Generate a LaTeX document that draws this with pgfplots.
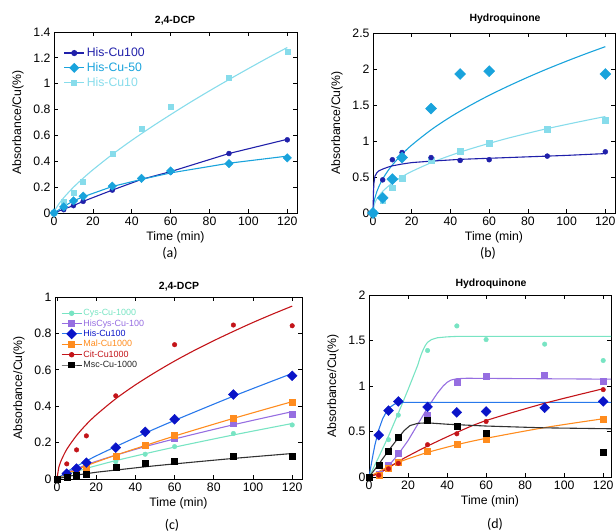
\documentclass[border=0pt]{standalone}
\usepackage{pgfplots}
\pgfplotsset{compat=1.18}
\usepackage{fontspec}
\setmainfont{Liberation Sans}
\newfontfamily\carlito{Carlito}
\definecolor{hdark}{RGB}{32,32,170}
\definecolor{hmid}{RGB}{25,163,220}
\definecolor{hlight}{RGB}{135,220,235}
\definecolor{cys}{RGB}{120,228,195}
\definecolor{hiscys}{RGB}{150,110,225}
\definecolor{hismark}{RGB}{10,20,200}
\definecolor{hisline}{RGB}{40,120,235}
\definecolor{mal}{RGB}{255,140,30}
\definecolor{cit}{RGB}{195,20,25}
\definecolor{msc}{RGB}{0,0,0}
\definecolor{mscline}{RGB}{50,50,50}
\newcommand\tf{\fontsize{12.3}{14}\selectfont}
\newcommand\ttl{\bfseries\fontsize{10.5}{12}\selectfont}
\pgfplotsset{
 panel/.style={scale only axis, clip=false,
  axis line style={line width=0.8pt},
  tick style={black, line width=0.7pt},
  major tick length=4bp,
  tick align=inside,
  xtick={0,20,...,120}, xmin=0, xmax=125, ymin=0,
  tick label style={font=\tf},
  label style={font=\tf},
  ylabel style={yshift=3bp},
  xlabel={Time (min)}, ylabel={Absorbance/Cu(\%)},
  /pgf/number format/assume math mode=true,
  legend cell align=left,
  legend image code/.code={\draw[mark repeat=2,mark phase=2] plot coordinates {(0bp,0bp) (10bp,0bp) (20bp,0bp)};},
 },
 fit/.style={line width=1.1pt, no markers, forget plot},
 pts/.style={only marks, forget plot},
}
\begin{document}
\begin{tikzpicture}[x=1bp,y=1bp]
\path[use as bounding box] (0,0) rectangle (616,532);
% ---------------- (a)
\begin{axis}[panel, at={(54bp,319bp)}, anchor=south west, width=243bp, height=181bp,
 ymax=1.4, ytick={0,0.2,...,1.4},
 legend style={at={(0.035,0.93)}, anchor=north west, draw=none, fill=none, font=\tf, row sep=0.5bp, inner sep=1bp}]
\addlegendimage{hdark, line width=1.1pt, mark=*, mark size=2.5bp}
\addlegendentry{\textcolor{hdark}{His-Cu100}}
\addlegendimage{hmid, line width=1.1pt, mark=square*, mark size=3bp, mark options={rotate=45}}
\addlegendentry{\textcolor{hmid}{His-Cu-50}}
\addlegendimage{hlight, line width=1.1pt, mark=square*, mark size=2.5bp}
\addlegendentry{\textcolor{hlight}{His-Cu10}}
\addplot[fit, hlight, smooth] coordinates {(0,0)(1,0.035)(2,0.059)(5,0.118)(10,0.199)(15,0.269)(20,0.334)(30,0.453)(40,0.562)(50,0.664)(60,0.761)(70,0.855)(80,0.945)(90,1.032)(100,1.117)(110,1.200)(120,1.280)};
\addplot[pts, hlight, mark=square*, mark size=2.5bp] coordinates {(0,0)(5,0.09)(10,0.155)(15,0.245)(30,0.46)(45,0.655)(60,0.82)(90,1.05)(120,1.25)};
\addplot[fit, hdark] coordinates {(0,0)(5,0.03)(10,0.057)(15,0.09)(30,0.177)(45,0.26)(60,0.32)(90,0.46)(120,0.57)};
\addplot[pts, hdark, mark=*, mark size=2.5bp] coordinates {(0,0)(5,0.026)(10,0.057)(15,0.09)(30,0.177)(45,0.265)(60,0.317)(90,0.46)(120,0.566)};
\addplot[fit, hmid] coordinates {(0,0)(5,0.05)(10,0.094)(15,0.125)(30,0.205)(45,0.26)(60,0.31)(90,0.385)(120,0.44)};
\addplot[pts, hmid, mark=square*, mark size=3bp, mark options={rotate=45}] coordinates {(0,0)(5,0.047)(10,0.094)(15,0.13)(30,0.208)(45,0.268)(60,0.325)(90,0.382)(120,0.426)};
\end{axis}
% ---------------- (b)
\begin{axis}[panel, at={(373bp,319bp)}, anchor=south west, width=242bp, height=180bp,
 ymax=2.5, ytick={0,0.5,...,2.5}]
\addplot[fit, hmid, smooth] coordinates {(0,0)(0.5,0.149)(1,0.211)(2,0.298)(3,0.365)(5,0.472)(7.5,0.578)(10,0.667)(15,0.817)(20,0.943)(30,1.155)(40,1.334)(50,1.491)(60,1.634)(70,1.764)(80,1.886)(90,2.001)(100,2.109)(110,2.212)(120,2.310)};
\addplot[fit, hlight, smooth] coordinates {(0,0)(0.5,0.102)(1,0.141)(2,0.196)(5,0.301)(10,0.417)(15,0.504)(20,0.577)(30,0.698)(40,0.799)(50,0.888)(60,0.967)(70,1.041)(80,1.108)(90,1.172)(100,1.230)(110,1.286)(120,1.340)};
\addplot[fit, hdark] coordinates {(0,0)(0.25,0.3)(0.5,0.42)(1,0.51)(2,0.56)(3,0.585)(5,0.61)(7.5,0.635)(10,0.655)(15,0.68)(20,0.70)(30,0.72)(45,0.745)(60,0.76)(80,0.78)(100,0.80)(120,0.825)};
\addplot[pts, hlight, mark=square*, mark size=2.8bp] coordinates {(0,0)(5,0.17)(10,0.35)(15,0.48)(30,0.73)(45,0.86)(60,0.97)(90,1.16)(120,1.29)};
\addplot[pts, hdark, mark=*, mark size=2.5bp] coordinates {(0,0)(5,0.46)(10,0.74)(15,0.84)(30,0.77)(45,0.73)(60,0.74)(90,0.79)(120,0.85)};
\addplot[pts, hmid, mark=square*, mark size=3.9bp, mark options={rotate=45}] coordinates {(0,0)(5,0.21)(10,0.47)(15,0.77)(30,1.45)(45,1.93)(60,1.97)(120,1.93)};
\end{axis}
% ---------------- (c)
\begin{axis}[panel, at={(55bp,53bp)}, anchor=south west, width=247bp, height=182bp,
 xmin=-1, ymax=1, ytick={0,0.2,...,1},
 legend style={at={(0.02,0.945)}, anchor=north west, draw=none, fill=none, font=\fontsize{9}{9.8}\selectfont, row sep=0bp, inner sep=1bp, nodes={inner sep=1.2bp}}]
\addlegendimage{cys, line width=1pt, mark=*, mark size=2.2bp}
\addlegendentry{\textcolor{cys}{Cys-Cu-1000}}
\addlegendimage{hiscys, line width=1pt, mark=square*, mark size=2.8bp}
\addlegendentry{\textcolor{hiscys}{HisCys-Cu-100}}
\addlegendimage{hisline, line width=1pt, mark=square*, mark size=3.3bp, mark options={rotate=45, fill=hismark, draw=hismark}}
\addlegendentry{\textcolor{hismark}{His-Cu100}}
\addlegendimage{mal, line width=1pt, mark=square*, mark size=2.8bp}
\addlegendentry{\textcolor{mal}{Mal-Cu1000}}
\addlegendimage{cit, line width=1pt, mark=*, mark size=2.2bp}
\addlegendentry{\textcolor{cit}{Cit-Cu1000}}
\addlegendimage{mscline, line width=1pt, mark=square*, mark size=2.8bp, mark options={fill=msc, draw=msc}}
\addlegendentry{\textcolor{black!85}{Msc-Cu-1000}}
\addplot[fit, cit, smooth] coordinates {(0,0)(1,0.067)(2,0.098)(5,0.163)(10,0.239)(15,0.300)(20,0.352)(30,0.441)(40,0.517)(50,0.585)(60,0.648)(70,0.706)(80,0.760)(90,0.811)(100,0.860)(110,0.906)(120,0.950)};
\addplot[pts, cit, mark=*, mark size=2.3bp] coordinates {(5,0.083)(10,0.16)(15,0.237)(30,0.457)(60,0.738)(90,0.846)(120,0.842)};
\addplot[fit, cys, smooth] coordinates {(0,0)(5,0.024)(10,0.042)(15,0.058)(20,0.073)(30,0.101)(45,0.139)(60,0.175)(90,0.242)(120,0.305)};
\addplot[pts, cys, mark=*, mark size=2.3bp] coordinates {(5,0.018)(10,0.03)(15,0.05)(30,0.095)(45,0.136)(60,0.178)(90,0.25)(120,0.297)};
\addplot[fit, hiscys, smooth] coordinates {(0,0)(5,0.034)(10,0.057)(15,0.078)(20,0.097)(30,0.131)(45,0.178)(60,0.220)(90,0.298)(120,0.370)};
\addplot[pts, hiscys, mark=square*, mark size=3bp] coordinates {(5,0.025)(10,0.04)(15,0.06)(30,0.128)(45,0.183)(60,0.224)(90,0.306)(120,0.356)};
\addplot[fit, mal, smooth] coordinates {(0,0)(5,0.029)(10,0.051)(15,0.073)(20,0.093)(30,0.131)(45,0.184)(60,0.236)(90,0.333)(120,0.425)};
\addplot[pts, mal, mark=square*, mark size=3bp] coordinates {(5,0.025)(10,0.04)(15,0.06)(30,0.123)(45,0.185)(60,0.242)(90,0.336)(120,0.42)};
\addplot[fit, hisline, smooth] coordinates {(0,0)(5,0.039)(10,0.070)(15,0.099)(20,0.127)(30,0.178)(45,0.252)(60,0.322)(90,0.455)(120,0.580)};
\addplot[pts, hismark, mark=square*, mark size=3.5bp, mark options={rotate=45}] coordinates {(5,0.03)(10,0.057)(15,0.09)(30,0.172)(45,0.259)(60,0.328)(90,0.464)(120,0.567)};
\addplot[fit, mscline, smooth] coordinates {(0,0)(5,0.013)(10,0.022)(15,0.029)(20,0.037)(30,0.049)(45,0.067)(60,0.083)(90,0.113)(120,0.140)};
\addplot[pts, msc, mark=square*, mark size=3bp] coordinates {(0,0)(5,0.01)(10,0.02)(15,0.026)(30,0.064)(45,0.086)(60,0.10)(90,0.125)(120,0.123)};
\end{axis}
% ---------------- (d)
\begin{axis}[panel, at={(369bp,55bp)}, anchor=south west, width=242bp, height=182bp,
 xmax=124, ymax=2, ytick={0,0.5,...,2}]
\addplot[fit, cys] coordinates {(0,0)(5,0.22)(10,0.45)(15,0.70)(20,0.96)(25,1.23)(26,1.30)(27,1.36)(28,1.41)(29,1.45)(30,1.48)(32,1.51)(35,1.53)(40,1.54)(45,1.545)(124,1.545)};
\addplot[pts, cys, mark=*, mark size=2.3bp] coordinates {(10,0.41)(15,0.68)(30,1.39)(45,1.66)(60,1.51)(90,1.46)(120,1.28)};
\addplot[fit, hiscys] coordinates {(0,0)(5,0.04)(10,0.12)(15,0.25)(20,0.40)(25,0.58)(30,0.76)(35,0.92)(38,1.0)(40,1.04)(42,1.065)(45,1.08)(50,1.085)(124,1.075)};
\addplot[pts, hiscys, mark=square*, mark size=3bp] coordinates {(5,0.03)(10,0.13)(15,0.26)(30,0.68)(45,1.04)(60,1.11)(90,1.12)(120,1.05)};
\addplot[fit, hisline] coordinates {(0,0)(1,0.12)(2,0.24)(3,0.35)(5,0.52)(7,0.64)(9,0.72)(11,0.77)(13,0.80)(15,0.815)(18,0.82)(124,0.82)};
\addplot[pts, hismark, mark=square*, mark size=3.5bp, mark options={rotate=45}] coordinates {(5,0.46)(10,0.73)(15,0.83)(30,0.77)(45,0.71)(60,0.72)(90,0.76)(120,0.83)};
\addplot[fit, mal, smooth] coordinates {(0,0)(5,0.06)(10,0.115)(15,0.16)(20,0.2)(30,0.27)(45,0.355)(60,0.425)(90,0.543)(120,0.640)};
\addplot[pts, mal, mark=square*, mark size=3bp] coordinates {(5,0.02)(10,0.10)(15,0.16)(30,0.28)(45,0.355)(60,0.42)(120,0.64)};
\addplot[fit, cit, smooth] coordinates {(0,0)(5,0.04)(10,0.1)(15,0.17)(20,0.23)(30,0.34)(45,0.49)(60,0.62)(90,0.81)(120,0.97)};
\addplot[pts, cit, mark=*, mark size=2.3bp] coordinates {(5,0.02)(10,0.09)(15,0.15)(30,0.355)(45,0.475)(60,0.61)(120,0.96)};
\addplot[fit, mscline] coordinates {(0,0)(5,0.14)(10,0.29)(15,0.43)(18,0.51)(21,0.565)(25,0.59)(30,0.595)(40,0.58)(60,0.56)(90,0.54)(124,0.53)};
\addplot[pts, msc, mark=square*, mark size=3bp] coordinates {(0,0)(5,0.135)(10,0.28)(15,0.435)(30,0.62)(45,0.555)(60,0.48)(120,0.275)};
\end{axis}
\node[font=\ttl] at (175,511.5) {2,4-DCP};
\node[font=\ttl] at (505,513) {Hydroquinone};
\node[font=\ttl] at (179,245.5) {2,4-DCP};
\node[font=\ttl] at (491,248) {Hydroquinone};
\node[font=\carlito\fontsize{14}{16}\selectfont] at (170,279) {(a)};
\node[font=\carlito\fontsize{14}{16}\selectfont] at (488,279) {(b)};
\node[font=\carlito\fontsize{14}{16}\selectfont] at (172,7) {(c)};
\node[font=\carlito\fontsize{14}{16}\selectfont] at (495,8) {(d)};
\end{tikzpicture}
\end{document}
